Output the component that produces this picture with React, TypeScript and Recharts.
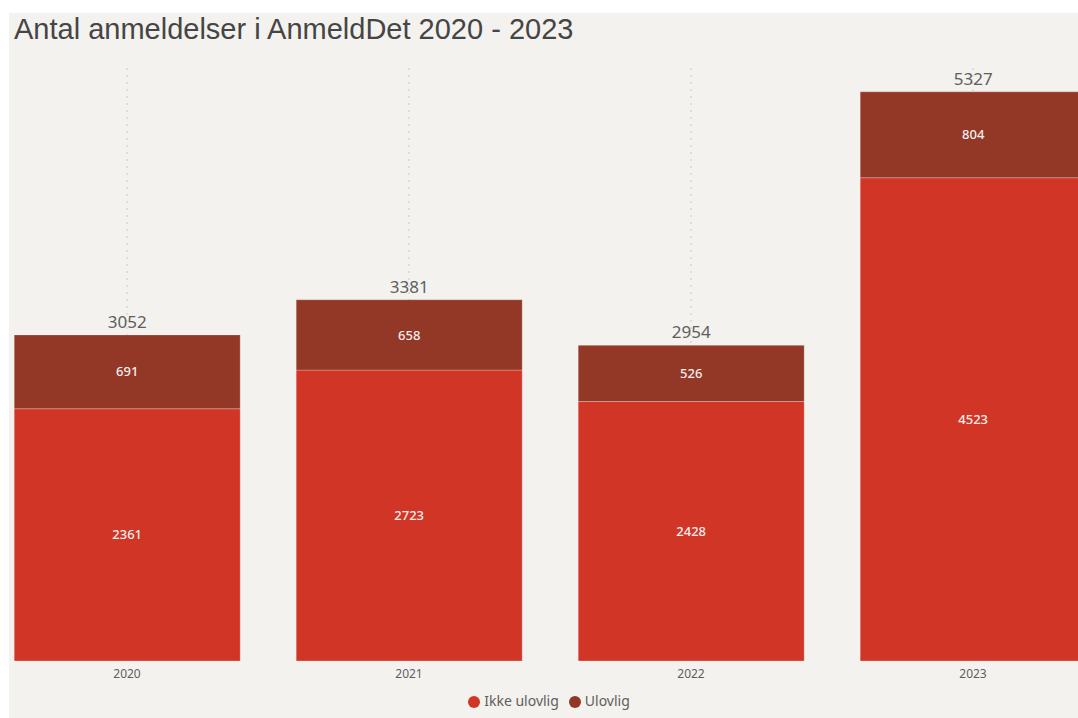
import { BarChart, Bar, XAxis, YAxis, CartesianGrid, Legend, LabelList } from 'recharts';

const years = ['2020', '2021', '2022', '2023'];
const ikkeUlovlig = [2361, 2723, 2428, 4523];
const ulovlig = [691, 658, 526, 804];

const data = years.map((year, i) => ({
  year,
  ikke: ikkeUlovlig[i],
  ulovlig: ulovlig[i],
  total: ikkeUlovlig[i] + ulovlig[i],
}));

const labelFont = "'Noto Sans', 'Open Sans', sans-serif";

export default function App() {
  return (
    <div
      style={{
        position: 'fixed',
        left: 9,
        top: 13,
        width: 1069,
        height: 705,
        background: '#f3f2ef',
        overflow: 'hidden',
      }}
    >
      <div
        style={{
          position: 'absolute',
          left: 5,
          top: 0,
          fontFamily: "'Liberation Sans', Arial, sans-serif",
          fontSize: 29,
          color: '#454545',
          zIndex: 2,
          whiteSpace: 'nowrap',
        }}
      >
        Antal anmeldelser i AnmeldDet 2020 - 2023
      </div>
      <div style={{ position: 'absolute', left: -23, top: 0 }}>
        <BarChart
          width={1128}
          height={705}
          data={data}
          margin={{ top: 55, right: 0, left: 0, bottom: 0 }}
          barCategoryGap="10%"
        >
          <CartesianGrid
            horizontal={false}
            stroke="#c8c8c8"
            strokeDasharray="2 5"
          />
          <XAxis
            dataKey="year"
            axisLine={false}
            tickLine={false}
            height={30}
            tick={{ fontSize: 12, fill: '#605e5c', fontFamily: labelFont }}
          />
          <YAxis hide domain={[0, 5550]} />
          <Legend
            verticalAlign="bottom"
            iconType="circle"
            iconSize={12}
            wrapperStyle={{ height: 27, fontFamily: labelFont, fontSize: 14, paddingLeft: 4 }}
            formatter={(value) => <span style={{ color: '#605e5c' }}>{value}</span>}
          />
          <Bar
            dataKey="ikke"
            name="Ikke ulovlig"
            stackId="a"
            fill="#d13526"
            stroke="#ffffff"
            strokeOpacity={0.25}
            isAnimationActive={false}
          >
            <LabelList
              dataKey="ikke"
              position="center"
              fill="#f4f0ee"
              fontSize={13}
              fontWeight={500}
              fontFamily={labelFont}
            />
          </Bar>
          <Bar
            dataKey="ulovlig"
            name="Ulovlig"
            stackId="a"
            fill="#933727"
            stroke="#ffffff"
            strokeOpacity={0.25}
            isAnimationActive={false}
          >
            <LabelList
              dataKey="ulovlig"
              position="center"
              fill="#f4f0ee"
              fontSize={13}
              fontWeight={500}
              fontFamily={labelFont}
            />
            <LabelList
              dataKey="total"
              position="top"
              offset={7}
              fill="#605e5c"
              fontSize={17}
              fontFamily={labelFont}
            />
          </Bar>
        </BarChart>
      </div>
    </div>
  );
}
